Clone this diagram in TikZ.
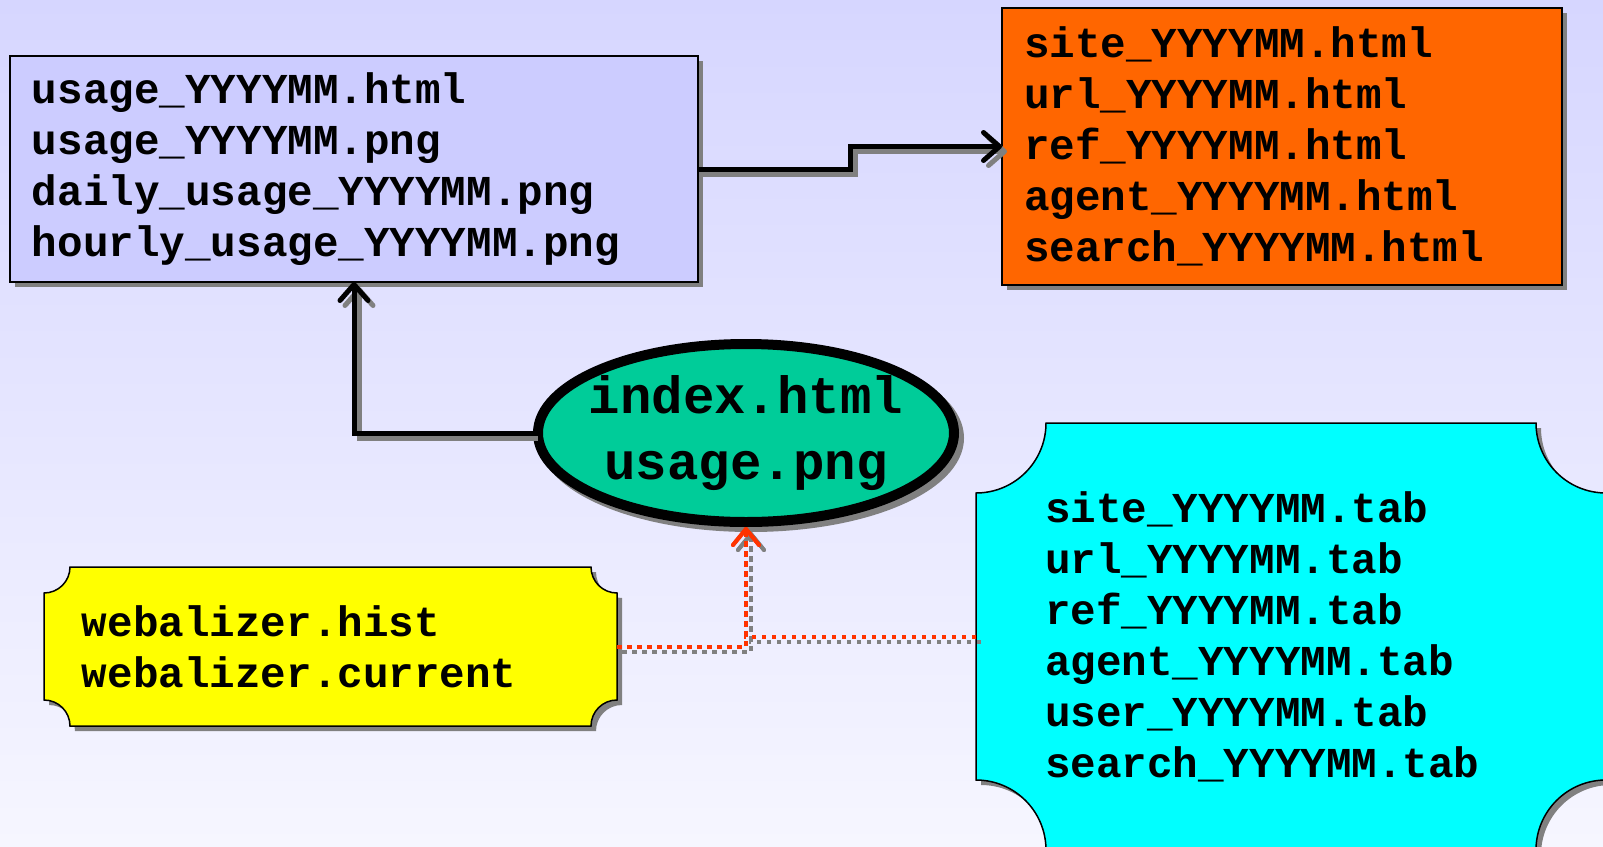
\documentclass[tikz,border=0pt]{standalone}
\usepackage{fontspec}
\setmonofont{Liberation Mono}
\usepackage{xcolor}
\definecolor{pagetop}{RGB}{214, 214, 255}
\definecolor{pagebottom}{RGB}{246, 246, 255}
\definecolor{usageblue}{RGB}{204, 204, 255}
\definecolor{reportorange}{RGB}{255, 102, 0}
\definecolor{indexgreen}{RGB}{0, 204, 153}
\definecolor{histyellow}{RGB}{255, 255, 0}
\definecolor{tabcyan}{RGB}{0, 255, 255}
\definecolor{feedred}{RGB}{255, 51, 0}
\definecolor{shadegray}{RGB}{128, 128, 128}
\usepackage{tikz}
\usetikzlibrary{shapes.geometric,arrows.meta,backgrounds}

% rectangle with round notches cut out of its four corners, fitted to a node
\newcommand{\notchbox}[3]{%
  \path[#3] ([xshift=#2]#1.north west) -- ([xshift=-#2]#1.north east)
    arc[start angle=180, end angle=270, radius=#2] -- ([yshift=#2]#1.south east)
    arc[start angle=90, end angle=180, radius=#2] -- ([xshift=#2]#1.south west)
    arc[start angle=0, end angle=90, radius=#2] -- ([yshift=-#2]#1.north west)
    arc[start angle=270, end angle=360, radius=#2] -- cycle;}

\begin{document}
\begin{tikzpicture}[
  x=0.5pt, y=-0.5pt,
  files/.style={font=\ttfamily\bfseries\fontsize{21.3pt}{25.5pt}\selectfont, align=left, inner sep=0pt, outer sep=0pt},
  box/.style={files, draw=black, line width=0.75pt, preaction={fill=shadegray, transform canvas={shift={(5,5)}}}},
  conn/.style={line width=2.5pt, -{Straight Barb[length=8pt, width=14pt, round]}},
  connshade/.style={conn, draw=shadegray, transform canvas={shift={(5,5)}}},
  feed/.style={line width=2pt, draw=feedred, dash pattern=on 2.25pt off 2.75pt, -{Straight Barb[length=8pt, width=13pt, round]}},
  feedshade/.style={feed, draw=shadegray, transform canvas={shift={(5,5)}}},
  notch/.style={draw=black, line width=0.75pt}
]
\useasboundingbox (0,0) rectangle (1603,847);
\begin{scope}[on background layer]
  \shade[top color=pagetop, bottom color=pagebottom] (0,0) rectangle (1603,847);
\end{scope}

\node[box, fill=usageblue, minimum width=344pt, minimum height=113pt, text width=322pt] (usage) at (354,169)
  {usage\_YYYYMM.html\\usage\_YYYYMM.png\\daily\_usage\_YYYYMM.png\\hourly\_usage\_YYYYMM.png};
\node[box, fill=reportorange, minimum width=280pt, minimum height=138.5pt, text width=258pt] (reports) at (1282,146.5)
  {site\_YYYYMM.html\\url\_YYYYMM.html\\ref\_YYYYMM.html\\agent\_YYYYMM.html\\search\_YYYYMM.html};
\node[ellipse, draw=black, line width=5pt, fill=indexgreen, minimum width=208pt, minimum height=89pt,
  inner xsep=-20pt, inner ysep=0pt, align=center, font=\ttfamily\bfseries\fontsize{26.2pt}{33pt}\selectfont,
  preaction={draw=shadegray, fill=shadegray, transform canvas={shift={(5,5)}}}] (idx) at (746,433)
  {index.html\\usage.png};
\node[files, minimum width=286.5pt, minimum height=79.5pt, text width=248.5pt] (hist) at (330.5,646.5)
  {webalizer.hist\\webalizer.current};
\node[files, minimum width=315pt, minimum height=213.5pt, text width=246pt] (tabs) at (1291,636.5)
  {site\_YYYYMM.tab\\url\_YYYYMM.tab\\ref\_YYYYMM.tab\\agent\_YYYYMM.tab\\user\_YYYYMM.tab\\search\_YYYYMM.tab};

\begin{scope}[on background layer]
  \notchbox{hist}{13pt}{fill=shadegray, transform canvas={shift={(5,5)}}}
  \notchbox{hist}{13pt}{notch, fill=histyellow}
  \notchbox{tabs}{35pt}{fill=shadegray, transform canvas={shift={(5,5)}}}
  \notchbox{tabs}{35pt}{notch, fill=tabcyan}
\end{scope}

\draw[connshade] (idx.west) -| (usage.south);
\draw[conn] (idx.west) -| (usage.south);
\draw[connshade] (usage.east) -- ++(152,0) |- (reports.west);
\draw[conn] (usage.east) -- ++(152,0) |- (reports.west);

\draw[feedshade] (hist.east) -| (idx.south);
\draw[feedshade] (tabs.west) -| (idx.south);
\draw[feed] (hist.east) -| (idx.south);
\draw[feed] (tabs.west) -| (idx.south);
\end{tikzpicture}
\end{document}
